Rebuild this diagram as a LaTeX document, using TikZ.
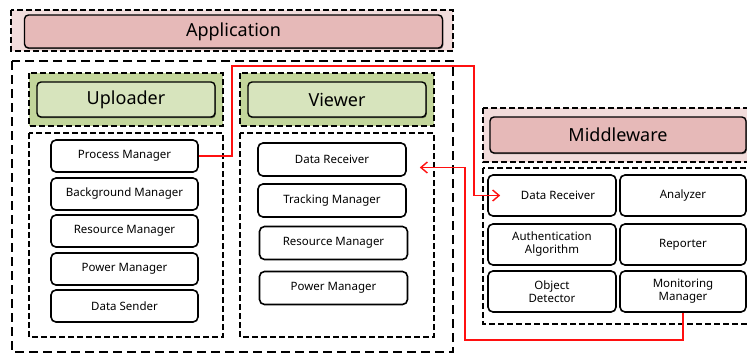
\documentclass[tikz,border=0pt]{standalone}
\usepackage{fontspec}
\setmainfont{Noto Sans}
\usetikzlibrary{arrows.meta,shadows,calc}

\definecolor{pinkbg}{HTML}{F2DCDB}
\definecolor{pinkhd}{HTML}{E6B9B8}
\definecolor{greenbg}{HTML}{C3D69B}
\definecolor{greenhd}{HTML}{D7E4BD}
\definecolor{linkred}{HTML}{FF1010}

\begin{document}
\begin{tikzpicture}[x=1pt,y=-1pt,
  group/.style={draw, dash pattern=on 6pt off 3pt, line width=1.1pt},
  bigframe/.style={draw, dash pattern=on 9pt off 5pt, line width=2pt},
  header/.style={draw, line width=1.4pt, rounded corners=4pt, inner sep=0pt,
    font=\fontsize{18}{20}\selectfont,
    drop shadow={shadow xshift=0.8pt, shadow yshift=-1.2pt, opacity=0.55, fill=black}},
  item/.style={draw, line width=1.6pt, rounded corners=5pt, fill=white, inner sep=0pt,
    align=center, font=\fontsize{11.5}{13}\selectfont},
  link/.style={draw=linkred, line width=1.4pt},
  tip/.style={-{Straight Barb[length=6.5pt,width=11pt,line width=1.4pt]}},
]
\useasboundingbox (0,0) rectangle (747,354);
\clip (0,0) rectangle (747,354);

% ---------- frames ----------
\draw[group, fill=pinkbg] (11,10) rectangle (453,51);
\draw[bigframe] (12,61) rectangle (453,352);
\draw[group, fill=greenbg] (29,73) rectangle (223,126);
\draw[group, fill=greenbg] (240,73) rectangle (434,126);
\draw[group] (29,133) rectangle (223,337);
\draw[group] (240,133) rectangle (434,337);
\draw[group, fill=pinkbg] (483,108) rectangle (760,162);
\draw[group] (483,168) rectangle (760,324);

% ---------- headers ----------
\node[header, fill=pinkhd, minimum width=418pt, minimum height=33pt] (app) at (233.5,31.5) {Application};
\node[header, fill=greenhd, minimum width=178pt, minimum height=35pt] (upl) at (126,99.5) {Uploader};
\node[header, fill=greenhd, minimum width=178pt, minimum height=35pt] (vwr) at (337,99.5) {Viewer};
\node[header, fill=pinkhd, minimum width=256pt, minimum height=36pt] (mid) at (618,135) {Middleware};

% ---------- uploader modules ----------
\begin{scope}[every node/.style={item, minimum width=147pt, minimum height=32pt}]
  \node (upm) at (124.5,156) {Process Manager};
  \node (ubm) at (124.5,194) {Background Manager};
  \node (urm) at (124.5,231) {Resource Manager};
  \node (upw) at (124.5,269) {Power Manager};
  \node (uds) at (124.5,306) {Data Sender};
\end{scope}

% ---------- viewer modules ----------
\begin{scope}[every node/.style={item, minimum width=148pt, minimum height=33pt}]
  \node (vdr) at (332,159.5) {Data Receiver};
  \node (vtm) at (332,200.5) {Tracking Manager};
  \node (vrm) at (333.5,243) {Resource Manager};
  \node (vpw) at (333.5,288) {Power Manager};
\end{scope}

% ---------- middleware modules ----------
\begin{scope}[every node/.style={item, minimum height=41pt}]
  \node[minimum width=128pt] (mdr) at (552,195.5) {\hspace*{12pt}Data Receiver};
  \node[minimum width=126pt] (man) at (683,195.5) {Analyzer};
  \node[minimum width=128pt] (mau) at (552,244.5) {Authentication\\Algorithm};
  \node[minimum width=126pt] (mrp) at (683,244.5) {Reporter};
  \node[minimum width=128pt] (mod) at (552,291.5) {Object\\Detector};
  \node[minimum width=126pt] (mmm) at (683,291.5) {Monitoring\\Manager};
\end{scope}

% ---------- data flow ----------
\coordinate (r1) at (232,66);
\coordinate (r2) at (474,66);
\coordinate (b1) at (465,340);
\draw[link, tip] (upm.east) -| (r1) -- (r2) |- ($(mdr.west)+(13,0)$);
\draw[link, tip] (mmm.south) |- (b1) |- ($(vdr.east)+(13,8)$);
\end{tikzpicture}
\end{document}
